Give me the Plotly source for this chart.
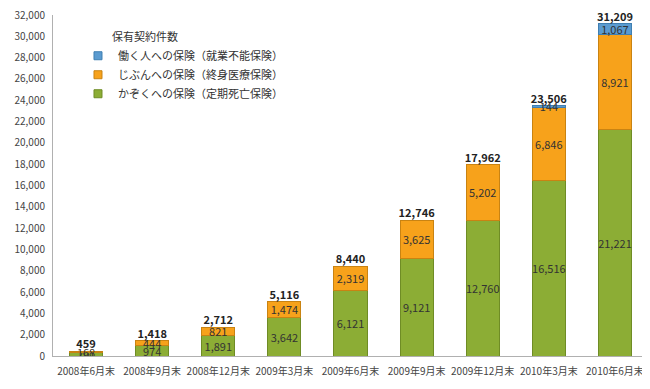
import plotly.graph_objects as go

categories = ["2008年6月末", "2008年9月末", "2008年12月末", "2009年3月末", "2009年6月末",
              "2009年9月末", "2009年12月末", "2010年3月末", "2010年6月末"]
kazoku = [291, 974, 1891, 3642, 6121, 9121, 12760, 16516, 21221]
jibun = [168, 444, 821, 1474, 2319, 3625, 5202, 6846, 8921]
hataraku = [None, None, None, None, None, None, None, 144, 1067]
totals = [459, 1418, 2712, 5116, 8440, 12746, 17962, 23506, 31209]

FONT = "Noto Sans CJK JP"

def fmt(v):
    return "" if v is None else f"{v:,}"

fig = go.Figure()
series = [
    ("かぞくへの保険（定期死亡保険）", kazoku, "#8cad35", "#6f8c25"),
    ("じぶんへの保険（終身医療保険）", jibun, "#f7a21b", "#c98312"),
    ("働く人への保険（就業不能保険）", hataraku, "#5b9bd0", "#3f7fb2"),
]
for name, vals, col, border in series:
    fig.add_trace(go.Bar(
        x=categories, y=vals, name=name, showlegend=False, legendgroup=name,
        marker=dict(color=col, line=dict(color=border, width=1)),
        text=[fmt(v) for v in vals], textposition="inside", insidetextanchor="middle",
        textangle=0, constraintext="none",
        textfont=dict(family=FONT, size=11, color="#333333"),
        hoverinfo="skip",
    ))

fig.add_trace(go.Scatter(
    x=categories, y=totals, mode="text", text=[f"<b>{t:,}</b>" for t in totals],
    textposition="top center", textfont=dict(family=FONT, size=11, color="#222222"),
    showlegend=False, hoverinfo="skip", cliponaxis=False,
))

# legend entries (small square markers, no data points)
for name, vals, col, border in reversed(series):
    fig.add_trace(go.Scatter(
        x=[None], y=[None], mode="markers", name=name, legendgroup=name,
        marker=dict(symbol="square", size=8, color=col, line=dict(color=border, width=1)),
        showlegend=True, hoverinfo="skip",
    ))

fig.update_layout(
    width=650, height=389,
    barmode="stack", bargap=0.5,
    margin=dict(l=45, r=10, t=7, b=41, autoexpand=False),
    paper_bgcolor="white", plot_bgcolor="white",
    font=dict(family=FONT, size=10, color="#444444"),
    showlegend=True,
    legend=dict(
        title=dict(text="\u00a0" * 13 + "保有契約件数", font=dict(family=FONT, size=11, color="#333333")),
        traceorder="normal", x=0.042, y=0.965, xanchor="left", yanchor="top",
        font=dict(family=FONT, size=11, color="#333333"),
        bgcolor="rgba(0,0,0,0)", itemwidth=30, tracegroupgap=2,
    ),
    xaxis=dict(showline=True, linecolor="#b0b0b0", linewidth=1, ticks="",
               ticklabelstandoff=6, automargin=False,
               tickfont=dict(family=FONT, size=10, color="#444444")),
    yaxis=dict(range=[0, 32000], dtick=2000, tickformat=",d", showgrid=False,
               showline=True, linecolor="#b0b0b0", linewidth=1, ticks="",
               zeroline=False, ticklen=0, ticklabelstandoff=5,
               ticklabeloverflow="allow", automargin=False,
               tickfont=dict(family=FONT, size=10, color="#444444")),
)

fig.write_html("out.html")
